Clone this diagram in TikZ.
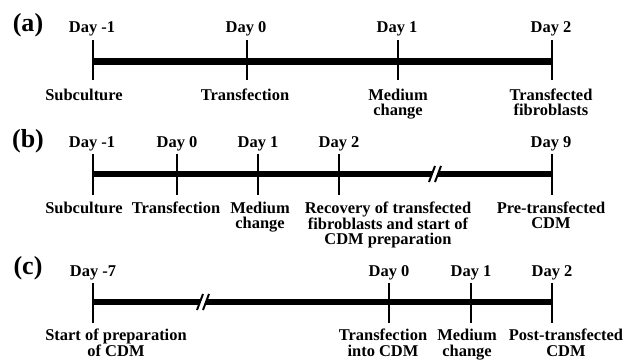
\documentclass[tikz,border=0pt]{standalone}
\usepackage{fontspec}
\setmainfont{Liberation Serif}
\begin{document}
\begin{tikzpicture}[x=0.025cm,y=-0.025cm,
  font=\fontsize{11.7}{11}\selectfont\bfseries,
  panel/.style={anchor=base,inner sep=0pt,font=\fontsize{18.5}{20}\selectfont\bfseries},
  daylbl/.style={anchor=base,inner sep=0pt},
  evtlbl/.style={anchor=base,align=center,inner sep=0pt},
  bar/.style={line width=4.6pt},
  tick/.style={line width=1.9pt},
  brk/.style={line width=1.4pt}]
\useasboundingbox (0,0) rectangle (626,360);

% (a) transfection of fibroblasts
\node[panel] (pa) at (28,32) {(a)};
\coordinate (a1) at (93,61.3);  \coordinate (a2) at (247,61.3);
\coordinate (a3) at (398,61.3); \coordinate (a4) at (552,61.3);
\draw[bar] (a1) -- (a4);
\coordinate (a1t) at (93,40);  \coordinate (a1b) at (93,80);
\coordinate (a2t) at (247,40); \coordinate (a2b) at (247,80);
\coordinate (a3t) at (398,40); \coordinate (a3b) at (398,80);
\coordinate (a4t) at (552,40); \coordinate (a4b) at (552,80);
\draw[tick] (a1t) -- (a1b);
\draw[tick] (a2t) -- (a2b);
\draw[tick] (a3t) -- (a3b);
\draw[tick] (a4t) -- (a4b);
\node[daylbl] (da1) at (92,33) {Day -1};
\node[daylbl] (da2) at (246,33) {Day 0};
\node[daylbl] (da3) at (397,33) {Day 1};
\node[daylbl] (da4) at (551,33) {Day 2};
% base of a multi-line label is its last line
\node[evtlbl] (ea1) at (84,101) {Subculture};
\node[evtlbl] (ea2) at (245,101) {Transfection};
\node[evtlbl] (ea3) at (398,116) {Medium\\change};
\node[evtlbl] (ea4) at (551,116) {Transfected\\fibroblasts};

% (b) pre-transfected CDM
\node[panel] (pb) at (28,148) {(b)};
\coordinate (b1) at (93,174);  \coordinate (b2) at (177,174);
\coordinate (b3) at (258,174); \coordinate (b4) at (339,174);
\coordinate (b5) at (552,174);
\draw[bar] (b1) -- (b5);
\coordinate (b1t) at (93,154);  \coordinate (b1b) at (93,195);
\coordinate (b2t) at (177,154); \coordinate (b2b) at (177,195);
\coordinate (b3t) at (258,154); \coordinate (b3b) at (258,195);
\coordinate (b4t) at (339,154); \coordinate (b4b) at (339,195);
\coordinate (b5t) at (552,154); \coordinate (b5b) at (552,195);
\draw[tick] (b1t) -- (b1b);
\draw[tick] (b2t) -- (b2b);
\draw[tick] (b3t) -- (b3b);
\draw[tick] (b4t) -- (b4b);
\draw[tick] (b5t) -- (b5b);
% break in the bar
\fill[white] (429,182) -- (435,166) -- (441,166) -- (435,182) -- cycle;
\draw[brk] (429,182) -- (435,166);
\draw[brk] (435,182) -- (441,166);
\node[daylbl] (db1) at (92,148) {Day -1};
\node[daylbl] (db2) at (177,148) {Day 0};
\node[daylbl] (db3) at (258,148) {Day 1};
\node[daylbl] (db4) at (339,148) {Day 2};
\node[daylbl] (db5) at (551,148) {Day 9};
\node[evtlbl] (eb1) at (84,213.5) {Subculture};
\node[evtlbl] (eb2) at (176,213.5) {Transfection};
\node[evtlbl] (eb3) at (260,229) {Medium\\change};
\node[evtlbl] (eb4) at (388,244.5) {Recovery of transfected\\fibroblasts and start of\\CDM preparation};
\node[evtlbl] (eb5) at (551,229) {Pre-transfected\\CDM};

% (c) post-transfected CDM
\node[panel] (pc) at (28,275) {(c)};
\coordinate (c1) at (93,302);  \coordinate (c2) at (389,302);
\coordinate (c3) at (471,302); \coordinate (c4) at (552,302);
\draw[bar] (c1) -- (c4);
\coordinate (c1t) at (93,283);  \coordinate (c1b) at (93,323);
\coordinate (c2t) at (389,283); \coordinate (c2b) at (389,323);
\coordinate (c3t) at (471,283); \coordinate (c3b) at (471,323);
\coordinate (c4t) at (552,283); \coordinate (c4b) at (552,323);
\draw[tick] (c1t) -- (c1b);
\draw[tick] (c2t) -- (c2b);
\draw[tick] (c3t) -- (c3b);
\draw[tick] (c4t) -- (c4b);
% break in the bar
\fill[white] (197,310) -- (203,294) -- (209,294) -- (203,310) -- cycle;
\draw[brk] (197,310) -- (203,294);
\draw[brk] (203,310) -- (209,294);
\node[daylbl] (dc1) at (93,277) {Day -7};
\node[daylbl] (dc2) at (389,277) {Day 0};
\node[daylbl] (dc3) at (471,277) {Day 1};
\node[daylbl] (dc4) at (552,277) {Day 2};
\node[evtlbl] (ec1) at (116,356) {Start of preparation\\of CDM};
\node[evtlbl] (ec2) at (383,356) {Transfection\\into CDM};
\node[evtlbl] (ec3) at (467,356) {Medium\\change};
\node[evtlbl] (ec4) at (566,356) {Post-transfected\\CDM};
\end{tikzpicture}
\end{document}
